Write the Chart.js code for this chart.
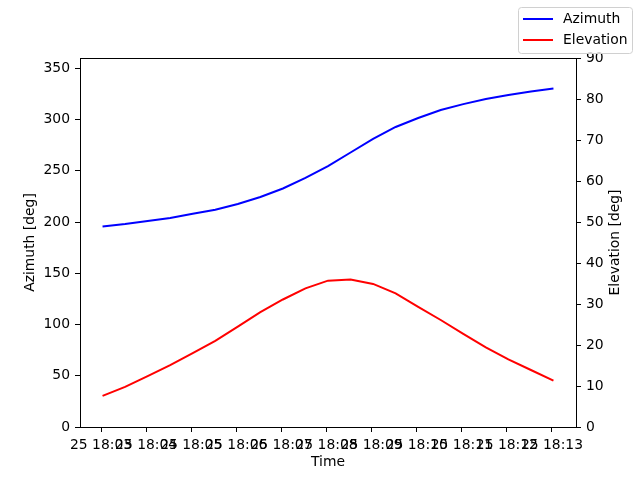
<!DOCTYPE html>
<html lang="en">
  <head>
    <meta charset="UTF-8" />
    <title>Azimuth / Elevation</title>
    <style>
      body { margin: 0; background: #fff; }
      canvas { display: block; }
    </style>
  </head>
  <body>
    <canvas id="myChart" width="640" height="480"></canvas>

    <script src="https://cdn.jsdelivr.net/npm/chart.js@4/dist/chart.umd.min.js"></script>
    <script>
      // minutes after 18:00 (one sample every 30 s)
      const times = [3.033, 3.533, 4.033, 4.533, 5.033, 5.533, 6.033, 6.533, 7.033, 7.533,
                     8.033, 8.533, 9.033, 9.533, 10.033, 10.533, 11.033, 11.533, 12.033, 12.533, 13.033];
      const azimuth = [195.6, 198, 201, 204, 208, 212, 217.5, 224.4, 232.7, 243,
                       254.6, 267.8, 281, 292.7, 301.5, 309.3, 315, 320, 323.9, 327.3, 330.2];
      const elevation = [7.6, 9.8, 12.4, 15.1, 18.0, 21.0, 24.5, 28.0, 31.1, 33.8,
                         35.7, 36.0, 34.9, 32.6, 29.3, 26.1, 22.7, 19.4, 16.5, 13.9, 11.3];

      const xTickValues = [3, 4, 5, 6, 7, 8, 9, 10, 11, 12, 13];
      const xTickLabels = ["25 18:03", "25 18:04", "25 18:05", "25 18:06", "25 18:07", "25 18:08",
                           "25 18:09", "25 18:10", "25 18:11", "25 18:12", "25 18:13"];
      const azTicks = [0, 50, 100, 150, 200, 250, 300, 350];
      const elTicks = [0, 10, 20, 30, 40, 50, 60, 70, 80, 90];

      const FONT = "DejaVu Sans";
      const fontSize = 13.9;

      const toPoints = vals => vals.map((v, i) => ({ x: times[i], y: v }));

      function fixTicks(values) {
        return scale => {
          scale.ticks = values.map(v => ({ value: v }));
        };
      }

      const axisCommon = {
        grid: { drawOnChartArea: false, drawTicks: true, tickLength: 5, color: "#000", lineWidth: 1 },
        border: { color: "#000", width: 1 },
        ticks: { color: "#000", font: { family: FONT, size: fontSize } }
      };

      // frame top, axis titles and the figure legend
      const decorations = {
        id: "decorations",
        afterDraw(chart) {
          const c = chart.ctx;
          const a = chart.chartArea;
          c.save();
          c.strokeStyle = "#000";
          c.lineWidth = 1;
          c.beginPath();
          c.moveTo(a.left, a.top + 0.5);
          c.lineTo(a.right, a.top + 0.5);
          c.stroke();

          c.fillStyle = "#000";
          c.font = fontSize + "px " + FONT;
          c.textAlign = "center";
          c.textBaseline = "middle";
          c.fillText("Time", (a.left + a.right) / 2, 462);

          const midY = (a.top + a.bottom) / 2;
          c.save();
          c.translate(30, midY);
          c.rotate(-Math.PI / 2);
          c.fillText("Azimuth [deg]", 0, 0);
          c.restore();
          c.save();
          c.translate(615, midY);
          c.rotate(-Math.PI / 2);
          c.fillText("Elevation [deg]", 0, 0);
          c.restore();

          // legend box
          const bx = 518.5, by = 7.5, bw = 114, bh = 46, r = 3;
          c.beginPath();
          c.moveTo(bx + r, by);
          c.arcTo(bx + bw, by, bx + bw, by + bh, r);
          c.arcTo(bx + bw, by + bh, bx, by + bh, r);
          c.arcTo(bx, by + bh, bx, by, r);
          c.arcTo(bx, by, bx + bw, by, r);
          c.closePath();
          c.fillStyle = "rgba(255,255,255,0.8)";
          c.fill();
          c.strokeStyle = "#d0d0d0";
          c.stroke();

          chart.data.datasets.forEach((ds, i) => {
            const y = 19 + i * 21;
            c.strokeStyle = ds.borderColor;
            c.lineWidth = 2;
            c.beginPath();
            c.moveTo(523, y);
            c.lineTo(553, y);
            c.stroke();
            c.fillStyle = "#000";
            c.textAlign = "left";
            c.fillText(ds.label, 563, y);
          });
          c.restore();
        }
      };

      const ctx = document.getElementById("myChart").getContext("2d");
      const chart = new Chart(ctx, {
        type: "line",
        data: {
          datasets: [
            {
              label: "Azimuth",
              data: toPoints(azimuth),
              borderColor: "#0000ff",
              borderWidth: 2,
              pointRadius: 0,
              tension: 0,
              yAxisID: "y"
            },
            {
              label: "Elevation",
              data: toPoints(elevation),
              borderColor: "#ff0000",
              borderWidth: 2,
              pointRadius: 0,
              tension: 0,
              yAxisID: "y1"
            }
          ]
        },
        options: {
          responsive: false,
          devicePixelRatio: 1,
          animation: false,
          layout: { padding: { top: 58, left: 0, right: 0, bottom: 0 } },
          plugins: { legend: { display: false }, tooltip: { enabled: false } },
          scales: {
            x: {
              ...axisCommon,
              type: "linear",
              position: "bottom",
              min: 2.533,
              max: 13.533,
              afterBuildTicks: fixTicks(xTickValues),
              afterFit: s => { s.height = 53; },
              ticks: {
                ...axisCommon.ticks,
                autoSkip: false,
                maxRotation: 0,
                minRotation: 0,
                padding: 5,
                callback: (v, i) => xTickLabels[i]
              }
            },
            y: {
              ...axisCommon,
              position: "left",
              min: 0,
              max: 360,
              afterBuildTicks: fixTicks(azTicks),
              afterFit: s => { s.width = 80; },
              ticks: { ...axisCommon.ticks, padding: 5 }
            },
            y1: {
              ...axisCommon,
              position: "right",
              min: 0,
              max: 90,
              afterBuildTicks: fixTicks(elTicks),
              afterFit: s => { s.width = 64; },
              ticks: { ...axisCommon.ticks, padding: 5 }
            }
          }
        },
        plugins: [decorations]
      });
    </script>
  </body>
</html>
